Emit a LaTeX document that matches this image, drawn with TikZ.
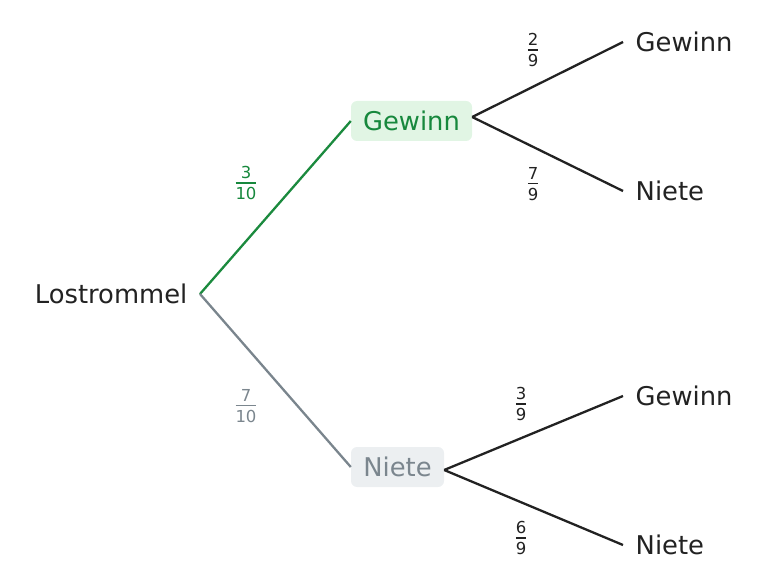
\documentclass[tikz,border=0pt]{standalone}
\usepackage{fontspec}
\setmainfont{DejaVu Sans}
\definecolor{gtext}{HTML}{17883D}
\definecolor{gline}{HTML}{1B8A3E}
\definecolor{gfill}{HTML}{E1F5E4}
\definecolor{stext}{HTML}{7B868E}
\definecolor{sline}{HTML}{7A858D}
\definecolor{sfill}{HTML}{ECEFF1}
\definecolor{ink}{HTML}{222222}
\tikzset{
  lbl/.style={font=\fontsize{25.8}{30}\selectfont, text=ink, inner ysep=0pt, inner xsep=12.5pt},
  boxed/.style={font=\fontsize{25.8}{30}\selectfont, rounded corners=6pt, minimum height=40pt, inner xsep=0pt, inner ysep=0pt, text height=18.5pt, text depth=0pt},
  frac/.style={font=\fontsize{16.5}{19}\selectfont, inner sep=0pt},
  conn/.style={line width=2.3pt, ink},
}
\newcommand{\fr}[2]{\vbox{\offinterlineskip\halign{\hfil##\hfil\cr #1\cr\noalign{\kern3pt\hrule height 1.8pt\kern3.5pt}#2\cr}}}
\begin{document}
\begin{tikzpicture}[x=1pt,y=-1pt]
\useasboundingbox (0,0) rectangle (766,588);
\node[lbl, anchor=east] (root) at (200,294) {Lostrommel};
\node[boxed, fill=gfill, text=gtext, minimum width=121pt] (g) at (411.5,121) {Gewinn};
\node[boxed, fill=sfill, text=stext, minimum width=93pt] (n) at (397.5,467) {Niete};
\node[lbl, anchor=west] (gg) at (623,42) {Gewinn};
\node[lbl, anchor=west] (gn) at (623,191) {Niete};
\node[lbl, anchor=west] (ng) at (623,396) {Gewinn};
\node[lbl, anchor=west] (nn) at (623,545) {Niete};
\draw[conn, gline] (root.east) -- (g.west);
\draw[conn, sline] (root.east) -- (n.west);
\draw[conn] ([yshift=4pt]g.east) -- (gg.west);
\draw[conn] ([yshift=4pt]g.east) -- (gn.west);
\draw[conn] ([yshift=-3pt]n.east) -- (ng.west);
\draw[conn] ([yshift=-3pt]n.east) -- (nn.west);
\node[frac, text=gtext] (f1) at (246,183) {\fr{3}{10}};
\node[frac, text=stext] (f2) at (246,406) {\fr{7}{10}};
\node[frac, text=ink] (f3) at (533,50) {\fr{2}{9}};
\node[frac, text=ink] (f4) at (533,184) {\fr{7}{9}};
\node[frac, text=ink] (f5) at (521,404) {\fr{3}{9}};
\node[frac, text=ink] (f6) at (521,538) {\fr{6}{9}};
\end{tikzpicture}
\end{document}
